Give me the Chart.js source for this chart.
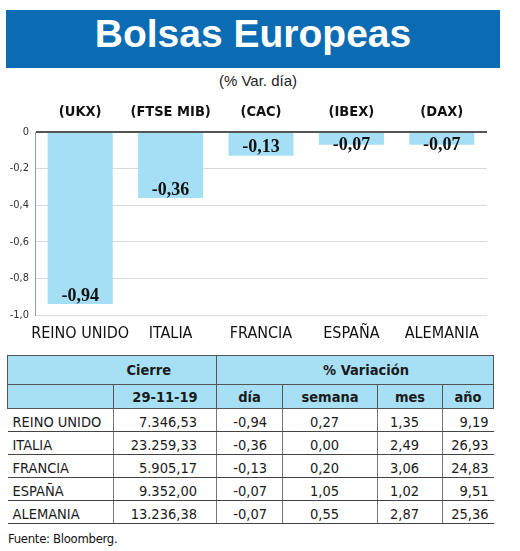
<!DOCTYPE html>
<html lang="es">
<head>
<meta charset="utf-8">
<title>Bolsas Europeas</title>
<script src="https://cdn.jsdelivr.net/npm/chart.js@4.4.1/dist/chart.umd.min.js"></script>
<style>
    html, body { margin: 0; padding: 0; background: #fff; }
    body { width: 520px; height: 551px; position: relative; overflow: hidden;
           font-family: 'DejaVu Sans Condensed', 'Liberation Sans', sans-serif; color: #1a1a1a; }
    #banner { position: absolute; left: 6px; top: 10px; width: 494px; height: 58px; background: #0b6cb4; }
    #title { position: absolute; left: 6px; top: 14px; width: 494px; text-align: center;
             font: bold 39px/39px 'Liberation Sans', Arial, sans-serif; color: #fff; }
    #subtitle { position: absolute; left: 0; top: 73px; width: 516px; text-align: center;
                font: 15px/15px 'Liberation Sans', Arial, sans-serif; color: #222; }
    #chart { position: absolute; left: 0; top: 95px; }
    #tabla { position: absolute; left: 7px; top: 355px; width: 486px; border-collapse: collapse;
             table-layout: fixed; font-size: 14.5px; white-space: nowrap; }
    #tabla th { background: #a7e0f5; font-weight: bold; font-size: 14.5px; border: 1px solid #555;
                padding: 0; line-height: 16px; }
    #tabla thead tr:first-child th { height: 28px; }
    #tabla thead tr:last-child th { height: 23px; }
    #tabla td { height: 21px; padding: 0 0 1px 0; vertical-align: bottom; line-height: 16px;
                border-bottom: 1px solid #444; border-left: 1px solid #777; text-align: right; overflow: hidden; }
    #tabla td:first-child { border-left: none; text-align: left; padding-left: 5px; }
    #tabla td:nth-child(2) { padding-right: 19px; }
    #tabla td:nth-child(3) { padding-right: 15px; }
    #tabla td:nth-child(4) { padding-right: 38px; }
    #tabla td:nth-child(5) { padding-right: 23px; }
    #tabla td:nth-child(6) { padding-right: 5px; }
    #fuente { position: absolute; left: 8px; top: 531px; font-size: 13px; line-height: 15px; color: #111;
              letter-spacing: -0.3px; }
</style>
</head>
<body>
<div id="banner"></div>
<div id="title">Bolsas Europeas</div>
<div id="subtitle">(% Var. día)</div>
<canvas id="chart" width="520" height="250"></canvas>
<table id="tabla">
    <colgroup>
        <col style="width:106px"><col style="width:103px"><col style="width:66px">
        <col style="width:95px"><col style="width:65px"><col style="width:51px">
    </colgroup>
    <thead>
        <tr><th colspan="2" id="hCierre"></th><th colspan="4" id="hVar"></th></tr>
        <tr id="hCols"></tr>
    </thead>
    <tbody id="cuerpo"></tbody>
</table>
<div id="fuente">Fuente: Bloomberg.</div>

<script>
// Chart data
const countries = ['REINO UNIDO', 'ITALIA', 'FRANCIA', 'ESPAÑA', 'ALEMANIA'];
const tickers = ['(UKX)', '(FTSE MIB)', '(CAC)', '(IBEX)', '(DAX)'];
const varDia = [-0.94, -0.36, -0.13, -0.07, -0.07];
const yTickLabels = ['0', '-0,2', '-0,4', '-0,6', '-0,8', '-1,0'];

// Table data
const cierreFecha = '29-11-19';
const colHeaders = ['día', 'semana', 'mes', 'año'];
const cierre = [7346.53, 23259.33, 5905.17, 9352.00, 13236.38];
const varSemana = [0.27, 0.00, 0.20, 1.05, 0.55];
const varMes = [1.35, 2.49, 3.06, 1.02, 2.87];
const varAno = [9.19, 26.93, 24.83, 9.51, 25.36];

const NARROW = "'DejaVu Sans Condensed', 'Liberation Sans', sans-serif";

function fmt(v) {
    return v.toFixed(2).replace('.', ',');
}

function fmtMiles(v) {
    const parts = v.toFixed(2).split('.');
    const ent = parts[0].replace(/\B(?=(\d{3})+(?!\d))/g, '.');
    return ent + ',' + parts[1];
}

// Build the table
document.getElementById('hCierre').innerHTML = '<span style="display:block;text-align:right;padding-right:45px">Cierre</span>';
document.getElementById('hVar').innerHTML = '<span style="display:block;padding-left:22px">% Variación</span>';
const hCols = document.getElementById('hCols');
hCols.innerHTML = '<th style="border-right:1px solid #555"></th><th>' + cierreFecha + '</th>' +
    colHeaders.map(h => '<th>' + h + '</th>').join('');
document.getElementById('cuerpo').innerHTML = countries.map((c, i) =>
    '<tr><td>' + c + '</td><td>' + fmtMiles(cierre[i]) + '</td><td>' + fmt(varDia[i]) +
    '</td><td>' + fmt(varSemana[i]) + '</td><td>' + fmt(varMes[i]) + '</td><td>' + fmt(varAno[i]) + '</td></tr>'
).join('');

// Ticker names above bars and values at bar ends
const barLabels = {
    id: 'barLabels',
    afterDatasetsDraw(chart) {
        const ctx = chart.ctx;
        const xScale = chart.scales.x;
        const base = chart.scales.y.getPixelForValue(0);
        ctx.save();
        ctx.textAlign = 'center';
        ctx.textBaseline = 'middle';
        ctx.fillStyle = '#111';
        ctx.font = 'bold 14.5px ' + NARROW;
        tickers.forEach((t, i) => {
            ctx.fillText(t, xScale.getPixelForValue(i), 17);
        });
        ctx.font = 'bold 18px "Liberation Serif", serif';
        chart.getDatasetMeta(0).data.forEach((bar, i) => {
            const y = Math.max(bar.y - 8, base + 13);
            ctx.fillText(fmt(varDia[i]), bar.x, y);
        });
        ctx.restore();
    }
};

new Chart(document.getElementById('chart'), {
    type: 'bar',
    data: {
        labels: countries,
        datasets: [{
            data: varDia,
            backgroundColor: '#a5dff5',
            borderWidth: 0,
            barPercentage: 0.72,
            categoryPercentage: 1
        }]
    },
    options: {
        responsive: false,
        animation: false,
        layout: { padding: { top: 37, right: 33, left: 0, bottom: 0 } },
        plugins: {
            legend: { display: false },
            tooltip: { enabled: false }
        },
        scales: {
            x: {
                grid: { display: false },
                border: { display: false },
                ticks: {
                    color: '#111',
                    padding: 1,
                    maxRotation: 0,
                    autoSkip: false,
                    font: { family: NARROW, size: 16 }
                },
                afterFit(scale) { scale.height = 30; }
            },
            y: {
                min: -1,
                max: 0,
                grid: {
                    drawTicks: false,
                    color: ctx => ctx.tick.value === 0 ? '#555' : '#d9d9d9',
                    lineWidth: ctx => ctx.tick.value === 0 ? 2 : 1
                },
                border: { display: true, color: '#999', width: 1 },
                ticks: {
                    stepSize: 0.2,
                    color: '#333',
                    padding: 6,
                    font: { family: NARROW, size: 11 },
                    callback: value => yTickLabels[Math.round(-value * 5)]
                },
                afterFit(scale) { scale.width = 35; }
            }
        }
    },
    plugins: [barLabels]
});
</script>
</body>
</html>
